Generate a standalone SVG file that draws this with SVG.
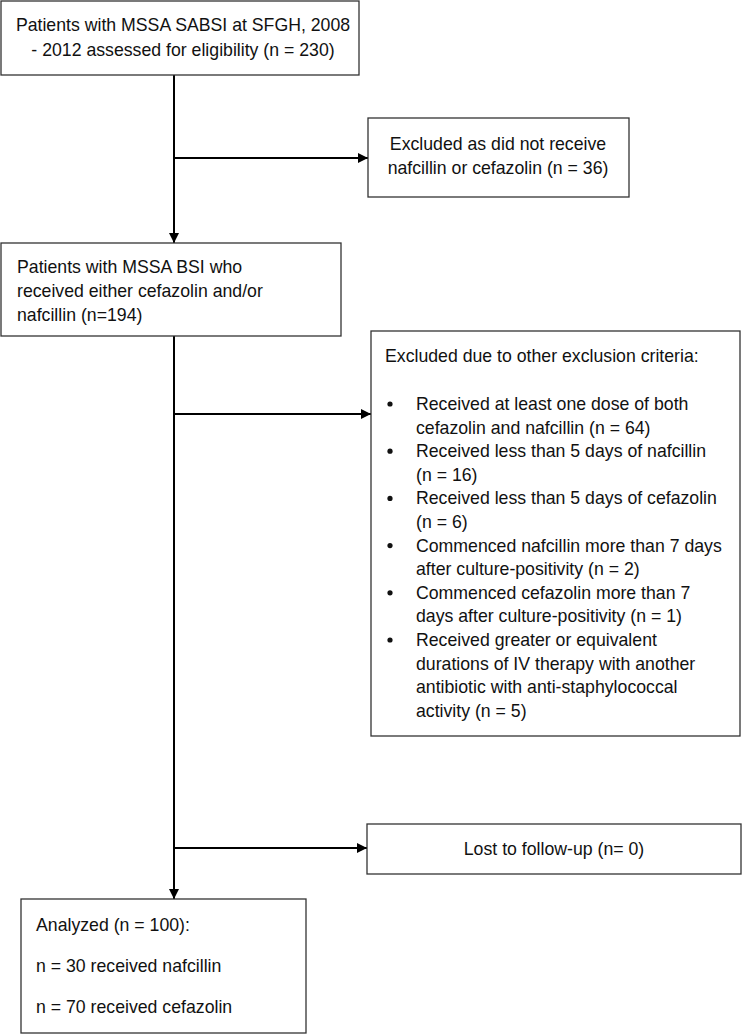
<svg xmlns="http://www.w3.org/2000/svg" width="742" height="1036" viewBox="0 0 742 1036">
<defs>
<marker id="ah" viewBox="0 0 10 10" refX="10" refY="5" markerWidth="10" markerHeight="10" markerUnits="userSpaceOnUse" orient="auto">
<path d="M0,0 L10,5 L0,10 z" fill="#000"/>
</marker>
<style>
.box{fill:#fff;stroke:#333;stroke-width:1.3}
.t{font-family:"Liberation Sans",Arial,sans-serif;font-size:17.7px;fill:#111}
.c{text-anchor:middle}
.conn{stroke:#000;stroke-width:2;fill:none}
.dot{fill:#111}
</style>
</defs>
<rect width="742" height="1036" fill="#fff"/>
<g id="connectors">
<line class="conn" x1="174" y1="75" x2="174" y2="243" marker-end="url(#ah)"/>
<line class="conn" x1="174" y1="158" x2="368" y2="158" marker-end="url(#ah)"/>
<line class="conn" x1="174" y1="336" x2="174" y2="899" marker-end="url(#ah)"/>
<line class="conn" x1="174" y1="414" x2="371" y2="414" marker-end="url(#ah)"/>
<line class="conn" x1="174" y1="848" x2="367" y2="848" marker-end="url(#ah)"/>
</g>
<g id="n1">
<rect class="box" x="1" y="1" width="358" height="74"/>
<text class="t c" x="183" y="31">Patients with MSSA SABSI at SFGH, 2008</text>
<text class="t c" x="183" y="56">- 2012 assessed for eligibility (n = 230)</text>
</g>
<g id="n2">
<rect class="box" x="368" y="118" width="261" height="79"/>
<text class="t c" x="498" y="150">Excluded as did not receive</text>
<text class="t c" x="498" y="174">nafcillin or cefazolin (n = 36)</text>
</g>
<g id="n3">
<rect class="box" x="1" y="243" width="340" height="93"/>
<text class="t" x="17" y="273">Patients with MSSA BSI who</text>
<text class="t" x="17" y="297">received either cefazolin and/or</text>
<text class="t" x="17" y="321">nafcillin (n=194)</text>
</g>
<g id="n4">
<rect class="box" x="371" y="331" width="369" height="405"/>
<text class="t" x="385" y="362">Excluded due to other exclusion criteria:</text>
<g class="dot">
<circle cx="390" cy="404" r="2.6"/>
<circle cx="390" cy="451.2" r="2.6"/>
<circle cx="390" cy="498.4" r="2.6"/>
<circle cx="390" cy="545.6" r="2.6"/>
<circle cx="390" cy="592.8" r="2.6"/>
<circle cx="390" cy="640" r="2.6"/>
</g>
<g class="t">
<text x="416" y="410">Received at least one dose of both</text>
<text x="416" y="433.6">cefazolin and nafcillin (n = 64)</text>
<text x="416" y="457.2">Received less than 5 days of nafcillin</text>
<text x="416" y="480.8">(n = 16)</text>
<text x="416" y="504.4">Received less than 5 days of cefazolin</text>
<text x="416" y="528">(n = 6)</text>
<text x="416" y="551.6">Commenced nafcillin more than 7 days</text>
<text x="416" y="575.2">after culture-positivity (n = 2)</text>
<text x="416" y="598.8">Commenced cefazolin more than 7</text>
<text x="416" y="622.4">days after culture-positivity (n = 1)</text>
<text x="416" y="646">Received greater or equivalent</text>
<text x="416" y="669.6">durations of IV therapy with another</text>
<text x="416" y="693.2">antibiotic with anti-staphylococcal</text>
<text x="416" y="716.8">activity (n = 5)</text>
</g>
</g>
<g id="n5">
<rect class="box" x="367" y="824" width="374" height="50"/>
<text class="t c" x="554" y="855">Lost to follow-up (n= 0)</text>
</g>
<g id="n6">
<rect class="box" x="21" y="899" width="285" height="134"/>
<text class="t" x="36" y="931">Analyzed (n = 100):</text>
<text class="t" x="36" y="972">n = 30 received nafcillin</text>
<text class="t" x="36" y="1013">n = 70 received cefazolin</text>
</g>
</svg>
